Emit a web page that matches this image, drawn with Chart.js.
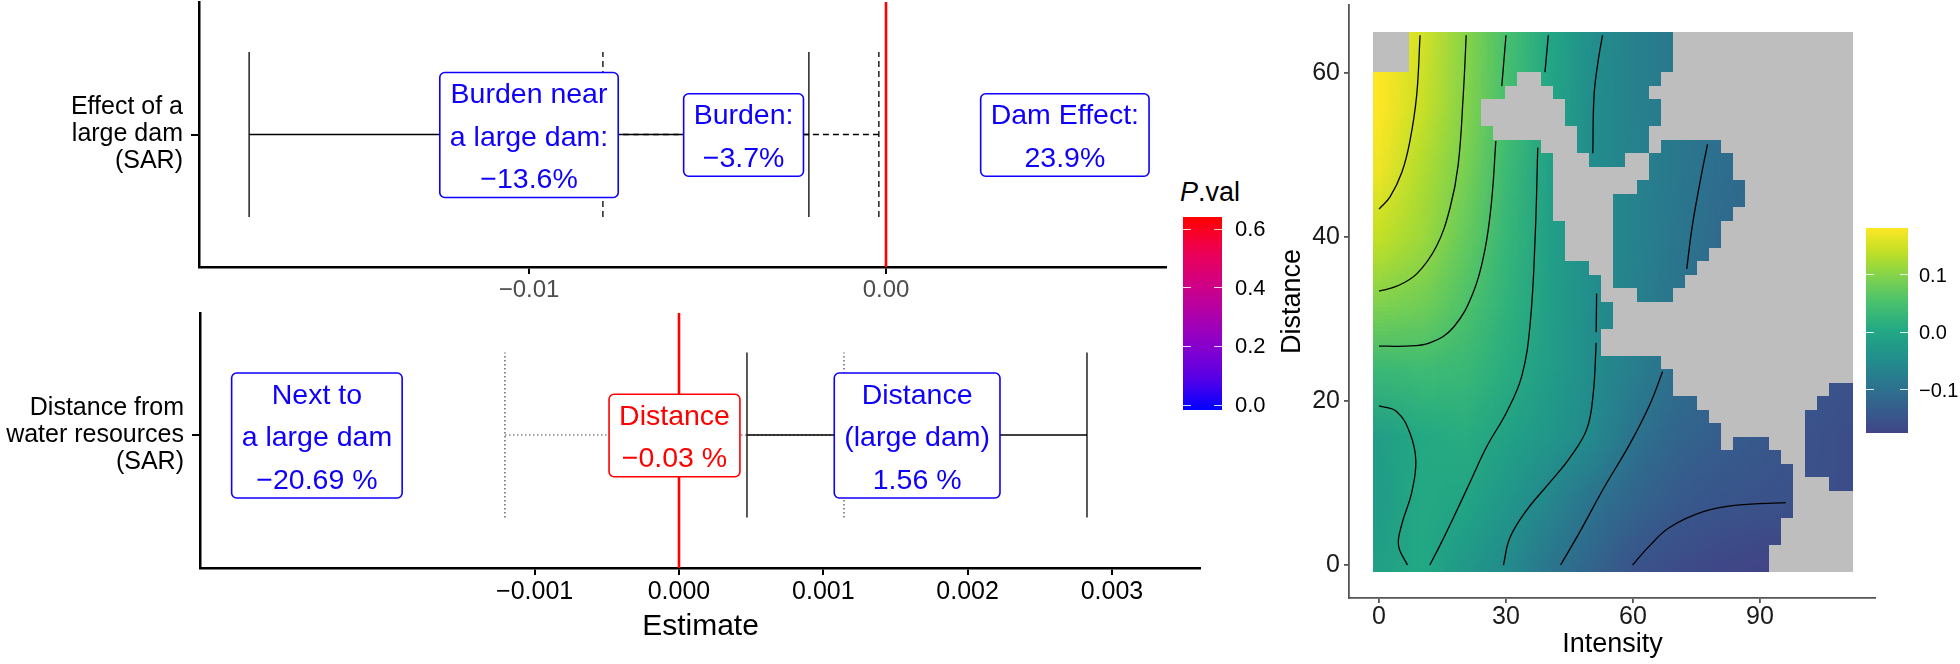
<!DOCTYPE html>
<html><head><meta charset="utf-8">
<script src="https://cdn.jsdelivr.net/npm/chart.js"></script>
<style>
html,body{margin:0;padding:0;background:#fff;}
body{width:1960px;height:664px;position:relative;overflow:hidden;font-family:"Liberation Sans",Arial,Helvetica,sans-serif;}
canvas{position:absolute;}
.lg{position:absolute;white-space:nowrap;color:#000;}
.tk{position:absolute;height:1px;background:rgba(255,255,255,0.85);}
</style></head><body>
<canvas id="topPanel" width="1167" height="300" style="left:0;top:0"></canvas>
<canvas id="bottomPanel" width="1201" height="364" style="left:0;top:300px"></canvas>
<canvas id="heatPanel" width="604" height="664" style="left:1272px;top:0"></canvas>
<div id="legends"></div>
<script>
// ================= DATA =================
// --- top forest panel: Effect of a large dam (SAR)
const topCategory = ['Effect of a', 'large dam', '(SAR)'];
const topTickValues = [-0.01, 0.00];
const topTickLabels = ['\u22120.01', '0.00'];
const topSolidCI = [-0.01784, -0.00216];
const topDashedCI = [-0.00793, -0.00020];
const topNoteText = [['Burden near', 'a large dam:', '\u221213.6%'], ['Burden:', '\u22123.7%'], ['Dam Effect:', '23.9%']];
const topNoteX = [-0.0100, -0.00399, 0.00501];
const topNoteP = [0.0, 0.0, 0.0];
const topZeroP = 0.64;

// --- bottom forest panel: Distance from water resources (SAR)
const bottomCategory = ['Distance from', 'water resources', '(SAR)'];
const bottomTickValues = [-0.001, 0.000, 0.001, 0.002, 0.003];
const bottomTickLabels = ['\u22120.001', '0.000', '0.001', '0.002', '0.003'];
const bottomSolidCI = [0.000471, 0.002827];
const bottomDottedCI = [-0.001206, 0.001143];
const bottomNoteText = [['Next to', 'a large dam', '\u221220.69 %'], ['Distance', '\u22120.03 %'], ['Distance', '(large dam)', '1.56 %']];
const bottomNoteX = [-0.002509, -0.0000312, 0.00165];
const bottomNoteP = [0.0, 0.64, 0.0];
const bottomZeroP = 0.64;

// --- P.val legend
const pLegendTicks = [0.0, 0.2, 0.4, 0.6];
const pLegendLabels = ['0.0', '0.2', '0.4', '0.6'];
const pRange = [-0.017, 0.641];

// --- heat map (Intensity x Distance)
const intensityTicks = [0, 30, 60, 90];
const distanceTicks = [0, 20, 40, 60];
const effectIntensity = [0, 10, 20, 30, 40, 50, 60, 70, 80, 90, 100, 110];
const effectDistance = [0, 8, 16, 24, 32, 40, 48, 56, 64];
const effect = [
  [-0.010, 0.004, -0.025, -0.052, -0.090, -0.120, -0.150, -0.160, -0.168, -0.173, -0.175, -0.175],
  [-0.020, 0.006, -0.002, -0.030, -0.060, -0.095, -0.120, -0.138, -0.146, -0.150, -0.154, -0.158],
  [-0.015, 0.005, 0.012, -0.008, -0.030, -0.053, -0.095, -0.120, -0.132, -0.142, -0.150, -0.158],
  [0.035, 0.040, 0.035, 0.012, -0.017, -0.048, -0.075, -0.102, -0.118, -0.130, -0.140, -0.150],
  [0.095, 0.085, 0.056, 0.022, -0.014, -0.047, -0.070, -0.093, -0.110, -0.123, -0.133, -0.143],
  [0.140, 0.115, 0.075, 0.030, -0.012, -0.045, -0.068, -0.090, -0.108, -0.118, -0.128, -0.138],
  [0.170, 0.128, 0.090, 0.036, -0.012, -0.048, -0.068, -0.085, -0.103, -0.113, -0.123, -0.133],
  [0.182, 0.145, 0.100, 0.048, 0.000, -0.048, -0.070, -0.085, -0.100, -0.110, -0.120, -0.130],
  [0.185, 0.152, 0.102, 0.050, 0.002, -0.045, -0.070, -0.085, -0.100, -0.110, -0.120, -0.130]
];
const effectRange = [-0.1748, 0.1817];
const effectLegendTicks = [-0.1, 0.0, 0.1];
const effectLegendLabels = ['\u22120.1', '0.0', '0.1'];

// grid cells of the raster (for missing values)
const cellIntensity = [0, 2.84, 5.67, 8.51, 11.34, 14.18, 17.02, 19.85, 22.69, 25.52, 28.36, 31.19, 34.03, 36.87, 39.70, 42.54, 45.37, 48.21, 51.05, 53.88, 56.72, 59.55, 62.39, 65.22, 68.06, 70.90, 73.73, 76.57, 79.40, 82.24, 85.08, 87.91, 90.75, 93.58, 96.42, 99.25, 102.09, 104.93, 107.76, 110.60];
const cellDistance = [0, 1.65, 3.29, 4.94, 6.58, 8.23, 9.88, 11.52, 13.17, 14.82, 16.46, 18.11, 19.75, 21.40, 23.05, 24.69, 26.34, 27.98, 29.63, 31.28, 32.92, 34.57, 36.22, 37.86, 39.51, 41.15, 42.80, 44.45, 46.09, 47.74, 49.38, 51.03, 52.68, 54.32, 55.97, 57.62, 59.26, 60.91, 62.55, 64.20];
// missing cells, rows from top (highest distance) to bottom, as [firstCol,lastCol] runs
const naRuns = [
  [[0,2],[25,39]], [[0,2],[25,39]], [[0,2],[25,39]], [[12,13],[24,39]],
  [[11,14],[23,39]], [[9,15],[24,39]], [[9,15],[24,39]], [[10,16],[23,39]],
  [[14,16],[23,23],[29,39]], [[15,17],[21,22],[30,39]], [[15,22],[30,39]], [[15,21],[31,39]],
  [[15,19],[31,39]], [[15,19],[30,39]], [[16,19],[29,39]], [[16,19],[29,39]],
  [[16,19],[28,39]], [[18,19],[27,39]], [[19,19],[26,39]], [[19,21],[25,39]],
  [[20,39]], [[20,39]], [[19,39]], [[19,39]],
  [[24,39]], [[25,39]], [[25,37]], [[27,36]],
  [[28,35]], [[29,35]], [[29,29],[33,35]], [[34,35]],
  [[35,35]], [[35,37]], [[35,39]], [[35,39]],
  [[34,39]], [[34,39]], [[33,39]], [[33,39]]
];

// contour lines [intensity, distance]
const contourP015 = [[9.7,64.6],[8.9,57.3],[7.3,51.7],[5.4,47.9],[2.6,44.9],[0.0,43.4]];
const contourP010 = [[20.6,64.6],[19.9,57.3],[18.7,48.8],[16.8,43.6],[13.6,38.9],[8.9,35.5],[4.2,34.0],[0.0,33.4]];
const contourP005a = [[30.0,64.6],[29.0,58.4]];
const contourP005b = [[27.6,51.7],[26.6,44.4],[25.0,38.4],[22.3,33.3],[17.6,29.0],[12.0,27.1],[5.7,26.7],[0.0,26.7]];
const contourZeroA = [[40.0,64.6],[39.2,60.1]];
const contourZeroB = [[37.5,50.9],[36.9,40.2],[35.7,29.4],[33.7,23.0],[30.2,18.7],[25.4,14.4],[21.5,10.1],[17.6,5.8],[14.4,2.4],[12.0,0.0]];
const contourZeroLoop = [[0.0,19.4],[4.2,18.7],[7.3,16.1],[8.7,12.7],[7.7,8.8],[5.4,5.0],[4.6,2.4],[6.7,0.0]];
const contourM005a = [[52.8,64.6],[51.8,61.6],[50.8,57.3],[50.5,50.2]];
const contourM005b = [[51.4,33.1],[51.3,28.4]];
const contourM005c = [[51.3,27.1],[50.6,20.9],[49.1,16.6],[45.1,13.1],[40.4,10.1],[34.9,6.7],[30.9,3.3],[29.4,0.0]];
const contourM010a = [[77.6,51.3],[75.8,46.6],[73.9,41.0],[72.7,36.1]];
const contourM010b = [[67.0,23.6],[64.0,19.6],[59.3,14.8],[53.0,9.3],[47.5,4.1],[42.9,0.0]];
const contourM015 = [[96.1,7.6],[84.5,7.3],[76.6,6.5],[68.7,4.6],[64.0,2.4],[59.9,0.0]];

// ================= STYLE / HELPERS =================
const FONT = '"Liberation Sans", Arial, Helvetica, sans-serif';
const P_STOPS = ['#0000FF', '#5A00E6', '#8800CC', '#B000AA', '#D30080', '#EE0050', '#FF0000'];
const VIRIDIS = ['#440154','#482475','#414487','#355F8D','#2A788E','#21918C','#22A884','#44BF70','#7AD151','#BDDF26','#FDE725'];
const WH = 0.623;

function hexToRgb(h){ const n = parseInt(h.slice(1), 16); return [(n>>16)&255, (n>>8)&255, n&255]; }
function rampColor(stops, t){
  t = Math.max(0, Math.min(1, t));
  const n = stops.length - 1, f = t * n, i = Math.min(n - 1, Math.floor(f)), u = f - i;
  const a = hexToRgb(stops[i]), b = hexToRgb(stops[i+1]);
  const c = a.map((v, k) => Math.round(v + (b[k] - v) * u));
  return 'rgb(' + c[0] + ',' + c[1] + ',' + c[2] + ')';
}
function pColor(p){ return rampColor(P_STOPS, (p - pRange[0]) / (pRange[1] - pRange[0])); }
function effectColor(v){ return rampColor(VIRIDIS, 0.2 + 0.8 * (v - effectRange[0]) / (effectRange[1] - effectRange[0])); }

function seg(x1, y1, x2, y2, extra){
  return Object.assign({data: [{x:x1, y:y1}, {x:x2, y:y2}], showLine: true, pointRadius: 0,
    borderColor: '#000', borderWidth: 1.3, fill: false, order: 1}, extra || {});
}
function ciSegments(ci, extra){
  return [seg(ci[0], 0, ci[1], 0, extra), seg(ci[0], -WH, ci[0], WH, extra), seg(ci[1], -WH, ci[1], WH, extra)];
}

function notesPlugin(texts, xs, ps){
  return {id: 'notes', afterDatasetsDraw(chart){
    const ctx = chart.ctx, sx = chart.scales.x, sy = chart.scales.y;
    const cy = sy.getPixelForValue(0);
    const LINE = 42.5, PADY = 20, PADX = 10, FS = 28.5;
    ctx.save();
    ctx.font = FS + 'px ' + FONT;
    texts.forEach((lines, i) => {
      const cx = sx.getPixelForValue(xs[i]);
      const col = pColor(ps[i]);
      const n = lines.length;
      const w = Math.max(...lines.map(l => ctx.measureText(l).width)) + 2 * PADX;
      const h = (n - 1) * LINE + 2 * PADY;
      const x0 = cx - w / 2, y0 = cy - h / 2 + 0.5, r = 5;
      ctx.beginPath();
      ctx.moveTo(x0 + r, y0); ctx.lineTo(x0 + w - r, y0); ctx.arcTo(x0 + w, y0, x0 + w, y0 + r, r);
      ctx.lineTo(x0 + w, y0 + h - r); ctx.arcTo(x0 + w, y0 + h, x0 + w - r, y0 + h, r);
      ctx.lineTo(x0 + r, y0 + h); ctx.arcTo(x0, y0 + h, x0, y0 + h - r, r);
      ctx.lineTo(x0, y0 + r); ctx.arcTo(x0, y0, x0 + r, y0, r); ctx.closePath();
      ctx.fillStyle = '#fff'; ctx.fill();
      ctx.lineWidth = 1.6; ctx.strokeStyle = col; ctx.stroke();
      ctx.fillStyle = col; ctx.textAlign = 'center'; ctx.textBaseline = 'alphabetic';
      lines.forEach((l, k) => {
        const ly = cy + 1 + (k - (n - 1) / 2) * LINE;
        ctx.fillText(l, cx, ly + 0.358 * FS);
      });
    });
    ctx.restore();
  }};
}

function forestChart(id, o){
  return new Chart(document.getElementById(id), {
    type: 'scatter',
    data: {datasets: o.datasets},
    options: {
      responsive: false, animation: false, devicePixelRatio: 1, events: [],
      layout: {padding: {top: o.padTop, left: 0, right: 0, bottom: 0}},
      plugins: {legend: {display: false}, tooltip: {enabled: false}},
      scales: {
        x: {type: 'linear', min: o.xMin, max: o.xMax,
          afterBuildTicks: s => { s.ticks = o.ticks.map(v => ({value: v})); },
          afterFit: s => { s.height = o.xH; s.paddingLeft = 0; s.paddingRight = 0; s.paddingTop = 0; s.paddingBottom = 0; },
          border: {display: true, color: '#000', width: 2.5},
          grid: {display: true, drawOnChartArea: false, drawTicks: true, tickLength: 7, color: '#000', lineWidth: 2},
          ticks: {color: o.tickColor, font: {family: FONT, size: o.tickSize, lineHeight: 1}, padding: o.tickPad,
            maxRotation: 0, autoSkip: false, callback: (v, i) => o.tickLabels[i]},
          title: o.title},
        y: {type: 'linear', min: o.yMin, max: o.yMax,
          afterBuildTicks: s => { s.ticks = [{value: 0}]; },
          afterFit: s => { s.width = o.yW; s.paddingTop = 0; s.paddingBottom = 0; s.paddingLeft = 0; s.paddingRight = 0; },
          border: {display: true, color: '#000', width: 2.5},
          grid: {display: true, drawOnChartArea: false, drawTicks: true, tickLength: 8, color: '#000', lineWidth: 2},
          ticks: {color: '#000', font: {family: FONT, size: 25, lineHeight: 1.08}, padding: 8, autoSkip: false,
            callback: () => o.category}}
      }
    },
    plugins: [notesPlugin(o.noteText, o.noteX, o.noteP)]
  });
}

// ================= TOP PANEL =================
const dashed = {borderDash: [6, 4], order: 2};
forestChart('topPanel', {
  datasets: [].concat(
    ciSegments(topSolidCI, {order: 1}),
    ciSegments(topDashedCI, dashed),
    [seg(0, -1, 0, 1, {borderColor: pColor(topZeroP), borderWidth: 2.6, order: 3})]
  ),
  padTop: 2, xMin: -0.019244, xMax: 0.007871, yMin: -1, yMax: 1, xH: 33, yW: 199,
  ticks: topTickValues, tickLabels: topTickLabels, tickColor: '#4D4D4D', tickSize: 24, tickPad: 4,
  title: {display: false}, category: topCategory,
  noteText: topNoteText, noteX: topNoteX, noteP: topNoteP
});

// ================= BOTTOM PANEL =================
const dotted = {borderDash: [1.5, 2.5], borderColor: '#444', borderWidth: 1.2, order: 2};
forestChart('bottomPanel', {
  datasets: [].concat(
    ciSegments(bottomSolidCI, {order: 1}),
    ciSegments(bottomDottedCI, dotted),
    [seg(0, -1.004, 0, 0.921, {borderColor: pColor(bottomZeroP), borderWidth: 2.6, order: 3})]
  ),
  padTop: 13, xMin: -0.003319, xMax: 0.003617, yMin: -1.004, yMax: 0.921, xH: 96, yW: 200,
  ticks: bottomTickValues, tickLabels: bottomTickLabels, tickColor: '#000', tickSize: 25, tickPad: 5,
  title: {display: true, text: 'Estimate', color: '#000', font: {family: FONT, size: 30, lineHeight: 1.2}, padding: {top: 0, bottom: 19}},
  category: bottomCategory,
  noteText: bottomNoteText, noteX: bottomNoteX, noteP: bottomNoteP
});

// ================= HEAT MAP =================
const heatPlugin = {id: 'heat', beforeDatasetsDraw(chart){
  const ctx = chart.ctx, sx = chart.scales.x, sy = chart.scales.y;
  const nC = cellIntensity.length, nR = cellDistance.length;
  const hx = (cellIntensity[1] - cellIntensity[0]) / 2, hy = (cellDistance[1] - cellDistance[0]) / 2;
  const L = Math.round(sx.getPixelForValue(cellIntensity[0] - hx)), R = Math.round(sx.getPixelForValue(cellIntensity[nC-1] + hx));
  const T = Math.round(sy.getPixelForValue(cellDistance[nR-1] + hy)), B = Math.round(sy.getPixelForValue(cellDistance[0] - hy));
  ctx.save();
  ctx.beginPath(); ctx.rect(L, T, R - L, B - T); ctx.clip();
  const nx = effectIntensity.length, ny = effectDistance.length;
  const off = document.createElement('canvas'); off.width = nx; off.height = ny;
  const oc = off.getContext('2d');
  for (let j = 0; j < ny; j++) for (let i = 0; i < nx; i++) {
    oc.fillStyle = effectColor(effect[j][i]); oc.fillRect(i, ny - 1 - j, 1, 1);
  }
  const dx = (effectIntensity[1] - effectIntensity[0]) / 2, dy = (effectDistance[1] - effectDistance[0]) / 2;
  const ix0 = sx.getPixelForValue(effectIntensity[0] - dx), ix1 = sx.getPixelForValue(effectIntensity[nx-1] + dx);
  const iy0 = sy.getPixelForValue(effectDistance[ny-1] + dy), iy1 = sy.getPixelForValue(effectDistance[0] - dy);
  ctx.imageSmoothingEnabled = true; ctx.imageSmoothingQuality = 'low';
  ctx.drawImage(off, ix0, iy0, ix1 - ix0, iy1 - iy0);
  ctx.fillStyle = '#BEBEBE';
  naRuns.forEach((runs, r) => {
    const j = nR - 1 - r;
    const ya = Math.round(sy.getPixelForValue(cellDistance[j] + hy)), yb = Math.round(sy.getPixelForValue(cellDistance[j] - hy));
    runs.forEach(([a, b]) => {
      const xa = Math.round(sx.getPixelForValue(cellIntensity[a] - hx)), xb = Math.round(sx.getPixelForValue(cellIntensity[b] + hx));
      ctx.fillRect(xa, ya, xb - xa, yb - ya);
    });
  });
  ctx.restore();
}};

const contourLines = [contourP015, contourP010, contourP005a, contourP005b, contourZeroA, contourZeroB, contourZeroLoop,
  contourM005a, contourM005b, contourM005c, contourM010a, contourM010b, contourM015];

new Chart(document.getElementById('heatPanel'), {
  type: 'scatter',
  data: {datasets: contourLines.map(c => ({data: c.map(p => ({x: p[0], y: p[1]})), showLine: true, pointRadius: 0,
    borderColor: '#000', borderWidth: 1.3, tension: 0.4, fill: false}))},
  options: {
    responsive: false, animation: false, devicePixelRatio: 1, events: [],
    layout: {padding: {top: 5, left: 0, right: 0, bottom: 0}},
    plugins: {legend: {display: false}, tooltip: {enabled: false}},
    scales: {
      x: {type: 'linear', min: -7.09, max: 117.4,
        afterBuildTicks: s => { s.ticks = intensityTicks.map(v => ({value: v})); },
        afterFit: s => { s.height = 66; s.paddingLeft = 0; s.paddingRight = 0; s.paddingTop = 0; s.paddingBottom = 0; },
        border: {display: true, color: '#555', width: 1.8},
        grid: {display: true, drawOnChartArea: false, drawTicks: true, tickLength: 5, color: '#555', lineWidth: 1.8},
        ticks: {color: '#1a1a1a', font: {family: FONT, size: 25, lineHeight: 1}, padding: 1.5, maxRotation: 0, autoSkip: false,
          callback: v => String(v)},
        title: {display: true, text: 'Intensity', color: '#000', font: {family: FONT, size: 27, lineHeight: 1.2}, padding: {top: 0, bottom: 3}}},
      y: {type: 'linear', min: -4.02, max: 68.29,
        afterBuildTicks: s => { s.ticks = distanceTicks.map(v => ({value: v})); },
        afterFit: s => { s.width = 77; s.paddingTop = 0; s.paddingBottom = 0; s.paddingLeft = 0; s.paddingRight = 0; },
        border: {display: true, color: '#555', width: 1.8},
        grid: {display: true, drawOnChartArea: false, drawTicks: true, tickLength: 5, color: '#555', lineWidth: 1.8},
        ticks: {color: '#1a1a1a', font: {family: FONT, size: 25, lineHeight: 1}, padding: 4, autoSkip: false,
          callback: v => String(v)},
        title: {display: true, text: 'Distance', color: '#000', font: {family: FONT, size: 27, lineHeight: 1.2}, padding: {top: 4, bottom: 0}}}
    }
  },
  plugins: [heatPlugin]
});

// ================= LEGENDS (HTML) =================
(function(){
  const host = document.getElementById('legends');
  function add(html){ host.insertAdjacentHTML('beforeend', html); }
  // P.val colour bar
  const pb = {left: 1183, top: 217, w: 39, h: 193};
  add('<div class="lg" style="left:1180px;top:176px;font-size:27px;line-height:32px"><i>P</i>.val</div>');
  const pst = [];
  for (let k = 0; k <= 20; k++) pst.push(pColor(pRange[0] + (pRange[1] - pRange[0]) * k / 20) + ' ' + (k * 5) + '%');
  add('<div style="position:absolute;left:' + pb.left + 'px;top:' + pb.top + 'px;width:' + pb.w + 'px;height:' + pb.h + 'px;background:linear-gradient(to top,' + pst.join(',') + ')"></div>');
  pLegendTicks.forEach((p, i) => {
    const y = pb.top + pb.h - (p - pRange[0]) / (pRange[1] - pRange[0]) * pb.h;
    add('<div class="tk" style="left:' + pb.left + 'px;top:' + (y - 0.5) + 'px;width:8px"></div>');
    add('<div class="tk" style="left:' + (pb.left + pb.w - 8) + 'px;top:' + (y - 0.5) + 'px;width:8px"></div>');
    add('<div class="lg" style="left:1235px;top:' + (y - 11) + 'px;font-size:22px;line-height:22px">' + pLegendLabels[i] + '</div>');
  });
  // effect colour bar
  const eb = {left: 1866, top: 228, w: 42, h: 205};
  const est = [];
  for (let k = 0; k <= 20; k++) est.push(effectColor(effectRange[0] + (effectRange[1] - effectRange[0]) * k / 20) + ' ' + (k * 5) + '%');
  add('<div style="position:absolute;left:' + eb.left + 'px;top:' + eb.top + 'px;width:' + eb.w + 'px;height:' + eb.h + 'px;background:linear-gradient(to top,' + est.join(',') + ')"></div>');
  effectLegendTicks.forEach((v, i) => {
    const y = eb.top + eb.h - (v - effectRange[0]) / (effectRange[1] - effectRange[0]) * eb.h;
    add('<div class="tk" style="left:' + eb.left + 'px;top:' + (y - 0.5) + 'px;width:8px"></div>');
    add('<div class="tk" style="left:' + (eb.left + eb.w - 8) + 'px;top:' + (y - 0.5) + 'px;width:8px"></div>');
    add('<div class="lg" style="left:1919px;top:' + (y - 10) + 'px;font-size:20px;line-height:20px">' + effectLegendLabels[i] + '</div>');
  });
})();
</script>
</body></html>
